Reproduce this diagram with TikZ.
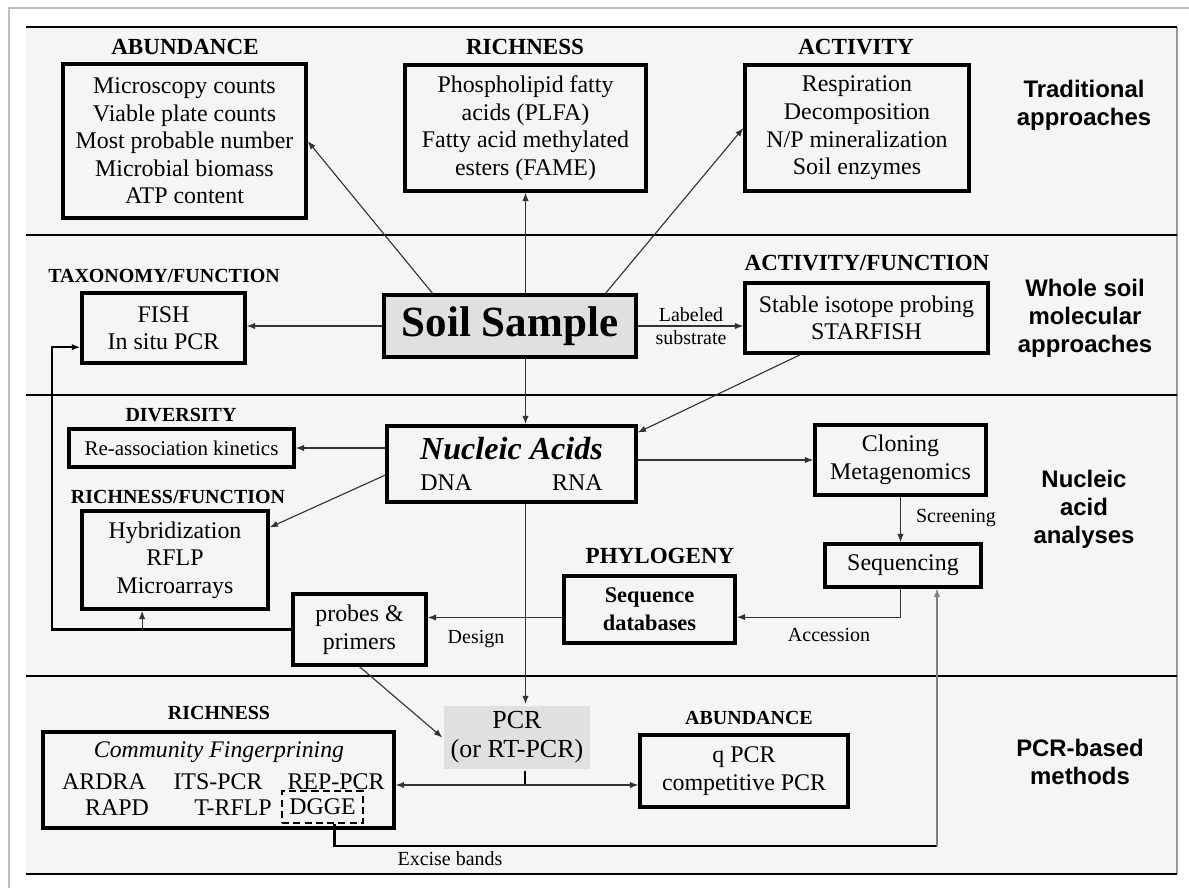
\documentclass[tikz,border=0pt]{standalone}
\usepackage{fontspec}
\setmainfont{Liberation Serif}
\newfontfamily\sidefont{Liberation Sans}
\usetikzlibrary{positioning}
\usetikzlibrary{arrows.meta}
\usetikzlibrary{calc}

\begin{document}
\begin{tikzpicture}[x=0.025cm,y=-0.025cm,>={Latex[length=6pt,width=4.5pt]},
  box/.style={draw,line width=2.3pt,align=center,inner sep=0pt,font=\fontsize{17}{19.6}\selectfont},
  sz/.style 2 args={minimum width=#1*0.025cm,minimum height=#2*0.025cm},
  head/.style={font=\fontsize{16.4}{18}\selectfont\bfseries},
  small head/.style={font=\fontsize{14.2}{16}\selectfont\bfseries},
  meth/.style={inner sep=0pt,font=\fontsize{17}{19.6}\selectfont},
  lab/.style={font=\fontsize{14.2}{16.4}\selectfont,align=center,inner sep=0pt},
  side/.style={font=\fontsize{17}{20}\selectfont\sidefont\bfseries,align=center},
  band/.style={line width=2.1pt},
  link/.style={->,line width=0.8pt,black!80},
  stub/.style={line width=2pt}]
  \useasboundingbox (0,0) rectangle (1189,888);
  \fill[white] (0,0) rectangle (1189,888);
  \fill[black!4] (26,27) rectangle (1177,874);
  \draw[black!25,line width=1pt] (9,888) -- (9,8) -- (1189,8);
  \draw[black!40,line width=0.8pt] (1177,27) -- (1177,874);
  \foreach \y in {27,235,395,676,874} \draw[band] (26,\y) -- (1177,\y);

  % traditional approaches
  \node[head] (habund) at (185,47) {ABUNDANCE};
  \node[box,sz={243}{154}] (abund) at (184.5,141) {Microscopy counts\\Viable plate counts\\Most probable number\\Microbial biomass\\ATP content};
  \node[head] (hrich) at (525,47) {RICHNESS};
  \node[box,sz={241}{126}] (rich) at (525.5,128) {Phospholipid fatty\\acids (PLFA)\\Fatty acid methylated\\esters (FAME)};
  \node[head] (hact) at (856,47) {ACTIVITY};
  \node[box,sz={224}{126}] (act) at (857,128) {Respiration\\Decomposition\\N/P mineralization\\Soil enzymes};
  \node[side] (trad) at (1084,105) {Traditional\\approaches};

  % whole soil molecular approaches
  \node[small head] (htax) at (164,276) {TAXONOMY/FUNCTION};
  \node[box,sz={163}{70}] (fish) at (163.5,328) {FISH\\In situ PCR};
  \node[box,sz={252}{62},line width=2.8pt,fill=black!12,font=\fontsize{30.6}{32}\selectfont\bfseries] (soil) at (510,326) {Soil Sample};
  \node[head] (hactf) at (867,263) {ACTIVITY/FUNCTION};
  \node[box,sz={243}{70}] (sip) at (866.5,318) {Stable isotope probing\\STARFISH};
  \node[lab] (labsub) at (691,326) {Labeled\\substrate};
  \node[side] (whole) at (1085,318) {Whole soil\\molecular\\approaches};

  % nucleic acid analyses
  \node[small head] (hdiv) at (181,415) {DIVERSITY};
  \node[box,sz={225}{38},font=\fontsize{14.9}{17}\selectfont] (reassoc) at (181.5,448) {Re-association kinetics};
  \node[box,sz={249}{76}] (nucleic) at (511.5,464) {{\fontsize{22.8}{24}\selectfont\bfseries\itshape Nucleic Acids}\\[3pt]DNA\hspace{2cm}RNA};
  \node[small head] (hrf) at (178,497) {RICHNESS/FUNCTION};
  \node[box,sz={186}{98}] (hybrid) at (175,560) {Hybridization\\RFLP\\Microarrays};
  \node[box,sz={171}{70}] (clone) at (900.5,460) {Cloning\\Metagenomics};
  \node[lab] (scr) at (956,518) {Screening};
  \node[box,sz={156}{43}] (seq) at (903,565.5) {Sequencing};
  \node[head] (hphy) at (660,556) {PHYLOGENY};
  \node[box,sz={171}{67},font=\fontsize{15.9}{19.9}\selectfont\bfseries] (seqdb) at (649.5,609.5) {Sequence\\databases};
  \node[lab] (acc) at (829,635) {Accession};
  \node[box,sz={133}{71}] (probes) at (359.5,629.5) {probes \&\\primers};
  \node[lab] (des) at (476,639) {Design};
  \node[side] (nuc) at (1084,509) {Nucleic\\acid\\analyses};

  % PCR-based methods
  \node[small head] (hrich2) at (219,713) {RICHNESS};
  \node[box,sz={351}{96}] (finger) at (218.5,780) {};
  \node[meth,font=\fontsize{16.9}{19}\selectfont\itshape] (comm) at (219,752) {Community Fingerprining};
  \node[meth] (ardra) at (104,782) {ARDRA};
  \node[meth] (its) at (218,782) {ITS-PCR};
  \node[meth] (rep) at (336,782) {REP-PCR};
  \node[meth] (rapd) at (117,808) {RAPD};
  \node[meth] (trflp) at (233,808) {T-RFLP};
  \node[meth,draw,dash pattern=on 5pt off 3pt,line width=1.8pt,sz={81}{32}] (dgge) at (322.5,807) {DGGE};
  \node[box,draw=none,fill=black!12,sz={146}{63},font=\fontsize{18.5}{20.6}\selectfont] (pcr) at (517,737.5) {PCR\\(or RT-PCR)};
  \node[small head] (habund2) at (749,718) {ABUNDANCE};
  \node[box,sz={208}{72}] (qpcr) at (744,771) {q PCR\\competitive PCR};
  \node[lab] (exl) at (450,859) {Excise bands};
  \node[side] (pcrm) at (1080,762) {PCR-based\\methods};

  \coordinate (loop) at (52,0);
  \coordinate (split) at (525,785);
  \coordinate (exc) at (937,846);

  \draw[link] (soil.157.8) -- (abund.east);
  \draw[link] (soil.north -| rich.south) -- (rich.south);
  \draw[link] (soil.19.8) -- (act.west);
  \draw[link] (soil.west) -- (soil.west -| fish.east);
  \draw[link] (soil.east) -- (soil.east -| sip.west);
  \draw[link,line width=1.2pt] (soil.south -| rich.south) -- (nucleic.north -| rich.south);
  \draw[link] (sip.209.6) -- (nucleic.14);
  \draw[link] (reassoc.east -| nucleic.west) -- (reassoc.east);
  \draw[link] (nucleic.185.9) -- (hybrid.19.5);
  \draw[link] (clone.west -| nucleic.east) -- (clone.west);
  \draw[link,line width=1.2pt] (nucleic.south -| rich.south) -- (pcr.north -| rich.south);
  \draw[link] (clone.south) -- (clone.south |- seq.north);
  \draw[link] (seq.south -| clone.south) |- (seqdb.-5);
  \draw[link] (probes.10 -| seqdb.west) -- (probes.10);
  \draw[->,line width=1.8pt] (probes.west) -- (probes.west -| loop) |- (fish.193.1);
  \draw[link] (hybrid.237.3 |- probes.west) -- (hybrid.237.3);
  \draw[link] (probes.south) -- (pcr.west);
  \draw[stub] (pcr.south -| split) -- (split);
  \draw[link] (split) -- (split -| finger.east);
  \draw[link] (split) -- (split -| qpcr.west);
  \draw[line width=1.6pt] (dgge.-55) |- (exc);
  \draw[link,black!50] (exc) -- (exc |- seq.south);
\end{tikzpicture}
\end{document}
